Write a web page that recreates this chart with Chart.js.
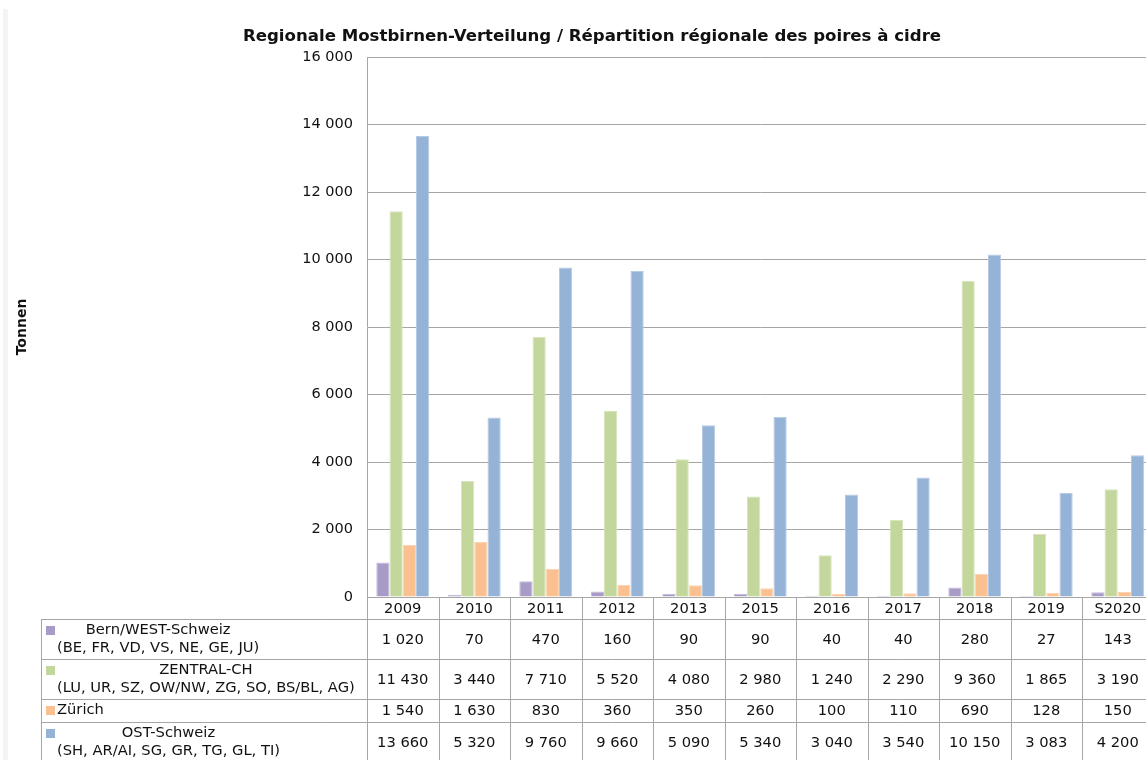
<!DOCTYPE html>
<html>
<head>
<meta charset="utf-8">
<script src="https://cdn.jsdelivr.net/npm/chart.js@4/dist/chart.umd.min.js"></script>
<style>
  body { margin: 0; overflow: hidden; background: #fff; }
  #strip { position: absolute; left: 3px; top: 9px; width: 5px; height: 760px; background: #f4f4f4; }
  #wrap { position: absolute; left: 0; top: 0; }
</style>
</head>
<body>
<div id="strip"></div>
<div id="wrap"><canvas id="chart-bars" width="1184" height="760"></canvas></div>
<script>
// Data
const categories = ["2009", "2010", "2011", "2012", "2013", "2015", "2016", "2017", "2018", "2019", "S2020"];
const bernWest = [1020, 70, 470, 160, 90, 90, 40, 40, 280, 27, 143];
const zentral = [11430, 3440, 7710, 5520, 4080, 2980, 1240, 2290, 9360, 1865, 3190];
const zuerich = [1540, 1630, 830, 360, 350, 260, 100, 110, 690, 128, 150];
const ost = [13660, 5320, 9760, 9660, 5090, 5340, 3040, 3540, 10150, 3083, 4200];

const seriesNames = [
  ["Bern/WEST-Schweiz", "(BE, FR, VD, VS, NE, GE, JU)"],
  ["ZENTRAL-CH", "(LU, UR, SZ, OW/NW, ZG, SO, BS/BL, AG)"],
  ["Zürich"],
  ["OST-Schweiz", "(SH, AR/AI, SG, GR, TG, GL, TI)"],
];
const seriesColors = ["#a99bc7", "#c3d69b", "#fac090", "#95b3d7"];
const seriesEdges = ["#c4bada", "#d6e4ba", "#fcd4b3", "#b5cae4"];
const yMin = 0;
const yMax = 16000;
const yStep = 2000;
const chartTitle = "Regionale Mostbirnen-Verteilung / Répartition régionale des poires à cidre";

function fmt(v) {
  return String(v).replace(/\B(?=(\d{3})+(?!\d))/g, " ");
}

Chart.defaults.font.family = "'DejaVu Sans', Verdana, sans-serif";
Chart.defaults.color = "#111";

const lineColor = "#a6a6a6";
const tableFont = "14.7px 'DejaVu Sans', Verdana, sans-serif";

// title + data table below the plot, columns follow the x scale
const dataTable = {
  id: "dataTable",
  afterDraw(chart) {
    const ctx = chart.ctx;
    const area = chart.chartArea;
    const x = chart.scales.x;
    const n = categories.length;
    const colW = (area.right - area.left) / n;
    const series = chart.data.datasets.map((d) => d.data);
    const rowH = [40, 40, 23, 40];
    const headTop = area.bottom;
    const headH = 22;
    const legendLeft = 41.5;

    ctx.save();
    // title (centred on the whole canvas)
    ctx.font = "bold 16.6px 'DejaVu Sans', Verdana, sans-serif";
    ctx.fillStyle = "#111";
    ctx.textAlign = "center";
    ctx.textBaseline = "middle";
    ctx.fillText(chartTitle, chart.width / 2, 37);

    ctx.strokeStyle = lineColor;
    ctx.lineWidth = 1;
    ctx.font = tableFont;

    // row tops
    let tops = [headTop + headH];
    for (let r = 0; r < rowH.length; r++) tops.push(tops[r] + rowH[r]);

    // horizontal lines
    ctx.beginPath();
    ctx.moveTo(area.left, Math.round(headTop) + 0.5);
    ctx.lineTo(chart.width, Math.round(headTop) + 0.5);
    for (let t of tops) {
      ctx.moveTo(legendLeft, Math.round(t) + 0.5);
      ctx.lineTo(chart.width, Math.round(t) + 0.5);
    }
    // vertical lines
    for (let i = 0; i <= n; i++) {
      const xx = Math.round(x.getPixelForValue(i) - colW / 2) + 0.5;
      ctx.moveTo(xx, headTop);
      ctx.lineTo(xx, chart.height);
    }
    ctx.moveTo(legendLeft, tops[0]);
    ctx.lineTo(legendLeft, chart.height);
    ctx.stroke();

    // category header
    ctx.textAlign = "center";
    categories.forEach((c, i) => {
      ctx.fillText(c, x.getPixelForValue(i), headTop + headH / 2 + 1);
    });

    // rows
    for (let r = 0; r < series.length; r++) {
      const top = tops[r];
      const mid = top + rowH[r] / 2;
      series[r].forEach((v, i) => {
        ctx.textAlign = "center";
        ctx.fillText(fmt(v), x.getPixelForValue(i), mid + 1);
      });

      // legend swatch
      ctx.fillStyle = seriesColors[r];
      ctx.fillRect(46, top + 7, 9, 9);
      ctx.fillStyle = "#111";

      // legend text, centred on the widest line
      const lines = seriesNames[r];
      const widths = lines.map((l) => ctx.measureText(l).width);
      const maxW = Math.max(...widths);
      const cx = 57 + maxW / 2;
      lines.forEach((l, k) => {
        ctx.textAlign = "center";
        ctx.fillText(l, cx, top + 11 + k * 18);
      });
    }
    ctx.restore();
  },
};

var ctx = document.getElementById("chart-bars").getContext("2d");

new Chart(ctx, {
  type: "bar",
  data: {
    labels: categories,
    datasets: [bernWest, zentral, zuerich, ost].map((d, i) => ({
      label: seriesNames[i][0],
      data: d,
      backgroundColor: seriesColors[i],
      borderColor: seriesEdges[i],
      borderWidth: 1,
      categoryPercentage: 0.74,
      barPercentage: 1.0,
    })),
  },
  options: {
    responsive: false,
    animation: false,
    layout: {
      padding: { top: 57, right: 30.5, bottom: 163, left: 0 },
    },
    plugins: {
      legend: { display: false },
      tooltip: { enabled: false },
      title: { display: false },
    },
    scales: {
      x: {
        display: false,
        offset: true,
      },
      y: {
        min: yMin,
        max: yMax,
        afterFit(scale) {
          scale.width = 367;
        },
        border: { display: true, color: lineColor },
        grid: {
          display: true,
          drawTicks: false,
          color: lineColor,
        },
        ticks: {
          stepSize: yStep,
          padding: 14,
          color: "#111",
          font: { size: 14.5 },
          callback: (v) => fmt(v),
        },
        title: {
          display: true,
          text: "Tonnen",
          color: "#111",
          font: { size: 14, weight: "bold" },
          padding: { top: 13.6, bottom: 0 },
        },
      },
    },
  },
  plugins: [dataTable],
});
</script>
</body>
</html>
